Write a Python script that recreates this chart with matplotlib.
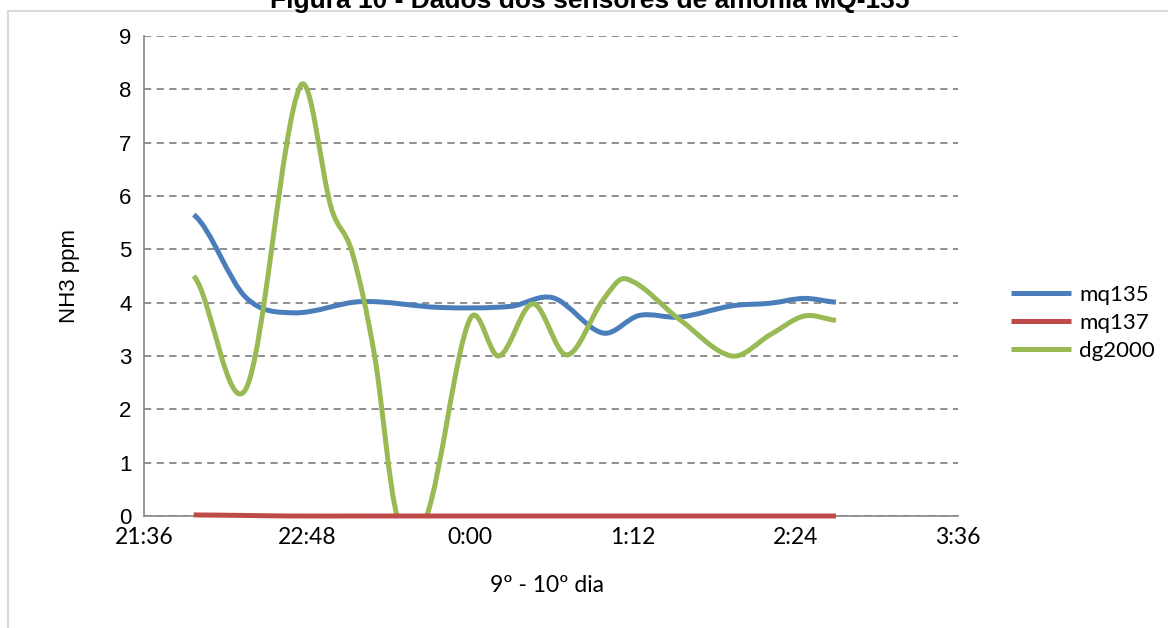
import matplotlib
matplotlib.use('Agg')
import matplotlib.pyplot as plt
import numpy as np
from matplotlib.path import Path
from matplotlib.patches import PathPatch, Rectangle
from matplotlib.lines import Line2D
from matplotlib.ticker import FuncFormatter

# ---------------- data ----------------
times_mq = ["21:58", "22:21", "22:42", "23:12", "23:47", "0:18", "0:37", "0:59",
            "1:15", "1:33", "1:56", "2:13", "2:28", "2:42"]
mq135 = [5.65, 4.1, 3.81, 4.02, 3.91, 3.93, 4.09, 3.43, 3.76, 3.73, 3.94, 3.99,
         4.08, 4.01]
mq137 = [0.02, 0.01, 0, 0, 0, 0, 0, 0, 0, 0, 0, 0, 0, 0]
times_dg = ["21:58", "22:21", "22:45", "22:59", "23:08", "23:18", "23:28", "23:41",
            "0:00", "0:13", "0:28", "0:43", "0:59", "1:09", "1:33", "1:56", "2:13",
            "2:28", "2:42"]
dg2000 = [4.5, 2.38, 8.05, 5.75, 4.95, 3.0, 0, 0, 3.68, 3.0, 3.98, 3.02, 4.05,
          4.45, 3.68, 3.0, 3.4, 3.75, 3.67]
series_names = ["mq135", "mq137", "dg2000"]
series_colors = ["#4A7EBB", "#BE4B48", "#98B954"]
x_tick_labels = ["21:36", "22:48", "0:00", "1:12", "2:24", "3:36"]
y_ticks = list(range(0, 10))

title = "Figura 10 - Dados dos sensores de amônia MQ-135"
x_label = "9º - 10º dia"
y_label = "NH3 ppm"

ORIGIN = 21 * 60 + 36


def to_min(s):
    h, m = map(int, s.split(":"))
    v = h * 60 + m - ORIGIN
    if v < 0:
        v += 1440
    return v


def fmt_clock(v, pos=None):
    t = int(round(v + ORIGIN)) % 1440
    return f"{t // 60}:{t % 60:02d}"


W, H = 1168, 628
fig = plt.figure(figsize=(W / 100, H / 100), dpi=100)
fig.patch.set_facecolor("white")

# chart-area frame
fig.add_artist(Rectangle((8 / W, -0.1), 1.2, 1.1 - 11 / H, transform=fig.transFigure,
                         fill=False, ec="#d9d9d9", lw=1.5))

ax = fig.add_axes([144 / W, 1 - 516 / H, (958 - 144) / W, (516 - 36) / H])
x_tick_vals = [to_min(s) for s in x_tick_labels]
x_tick_vals[-1] = 360  # 3:36 next day
ax.set_xlim(0, 360)
ax.set_ylim(0, 9)
ax.set_xticks(x_tick_vals)
ax.xaxis.set_major_formatter(FuncFormatter(fmt_clock))
ax.set_yticks(y_ticks)

for s in ["top", "right"]:
    ax.spines[s].set_visible(False)
for s in ["left", "bottom"]:
    ax.spines[s].set_color("#868686")
    ax.spines[s].set_linewidth(1.2)
ax.tick_params(length=0)
ax.tick_params(axis="y", pad=9, labelsize=16)
ax.tick_params(axis="x", pad=8, labelsize=16.5)
for lab in ax.get_yticklabels():
    lab.set_family("Liberation Sans")
for lab in ax.get_xticklabels():
    lab.set_family("Lato")
ax.yaxis.grid(True, linestyle=(0, (4, 3)), color="#868686", lw=1.3)
ax.set_axisbelow(True)


def smooth_path(xv, yv):
    """Smooth line through the points, drawn as cubic Bezier segments."""
    pts = ax.transData.transform(np.column_stack([xv, yv]))
    n = len(pts)
    px, py = pts[:, 0], pts[:, 1]
    m = np.zeros(n)
    for i in range(n):
        if i == 0:
            m[i] = 0.5 * (py[1] - py[0]) / (px[1] - px[0])
        elif i == n - 1:
            m[i] = 0.5 * (py[-1] - py[-2]) / (px[-1] - px[-2])
        else:
            m[i] = (py[i + 1] - py[i - 1]) / (px[i + 1] - px[i - 1])
    verts = [pts[0]]
    codes = [Path.MOVETO]
    for i in range(n - 1):
        dx = px[i + 1] - px[i]
        c1 = (px[i] + dx / 3, py[i] + m[i] * dx / 3)
        c2 = (px[i + 1] - dx / 3, py[i + 1] - m[i + 1] * dx / 3)
        verts += [c1, c2, pts[i + 1]]
        codes += [Path.CURVE4] * 3
    verts = ax.transData.inverted().transform(np.array(verts))
    return Path(verts, codes)


xs_mq = np.array([to_min(s) for s in times_mq], dtype=float)
xs_dg = np.array([to_min(s) for s in times_dg], dtype=float)
data = [(xs_mq, mq135), (xs_mq, mq137), (xs_dg, dg2000)]
zorders = [3, 5, 4]
for (xv, vals), col, z, name in zip(data, series_colors, zorders, series_names):
    patch = PathPatch(smooth_path(xv, np.array(vals, dtype=float)), facecolor="none",
                      edgecolor=col, lw=3.6, capstyle="butt", joinstyle="round", zorder=z)
    if name == "mq137":
        patch.set_clip_on(False)
    ax.add_patch(patch)

# legend
handles = [Line2D([], [], color=c, lw=3.6, solid_capstyle="butt") for c in series_colors]
fig.legend(handles, series_names, loc="center left",
           bbox_to_anchor=(995 / W, 1 - 323 / H), frameon=False,
           prop={"family": "Lato", "size": 16}, handlelength=2.7,
           handletextpad=0.4, labelspacing=0.35, borderpad=0.2)

fig.text(590 / W, 1 - 8 / H, title, ha="center", va="baseline", fontsize=19,
         fontweight="bold", family="Liberation Sans")
fig.text(70 / W, 1 - 276 / H, y_label, rotation=90, ha="center", va="center",
         fontsize=16, family="Liberation Sans")
fig.text(547 / W, 1 - 585 / H, x_label, ha="center", va="center", fontsize=16.5,
         family="Lato")

fig.savefig("out.png", dpi=100)
